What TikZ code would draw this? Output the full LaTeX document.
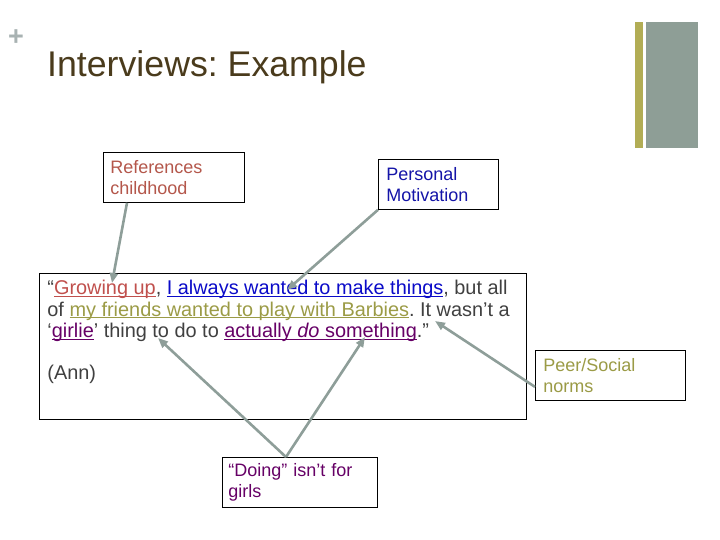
\documentclass[tikz,border=0pt]{standalone}
\usepackage{fontspec}
\setmainfont{Liberation Sans}
\definecolor{inkgray}{HTML}{404040}
\definecolor{titlebrown}{HTML}{4A3B1C}
\definecolor{plusgray}{HTML}{A8B2B2}
\definecolor{pointergray}{HTML}{8E9E99}
\definecolor{barolive}{HTML}{B2AD55}
\definecolor{barsage}{HTML}{8E9E96}
\definecolor{childred}{HTML}{C0504D}
\definecolor{labelred}{HTML}{B4574B}
\definecolor{makeblue}{HTML}{0A0AC8}
\definecolor{labelblue}{HTML}{1414A8}
\definecolor{peerolive}{HTML}{9B9B46}
\definecolor{doplum}{HTML}{660066}
\usepackage{tikz}
\usetikzlibrary{arrows.meta,positioning}
\frenchspacing
\newcommand\ulined[1]{\setbox0=\hbox{#1}\rlap{\rule[-2pt]{\wd0}{1.3pt}}\box0}
\newcommand\quotefont{\fontsize{19.9}{21.5}\selectfont}
\newcommand\lblfont{\fontsize{18}{21}\selectfont}

\begin{document}
\begin{tikzpicture}[x=1pt,y=-1pt,
    lbl/.style={draw=black,line width=0.8pt,fill=white,anchor=north west,inner ysep=0pt,align=left,font=\lblfont,minimum height=50pt},
    pointer/.style={pointergray,line width=2.6pt,-{Triangle[length=10pt,width=8pt]}}]
  \useasboundingbox (0,0) rectangle (720,540);
  % header
  \node[plusgray,font=\fontsize{27}{27}\selectfont\bfseries,inner sep=0pt] (plus) at (16,38) {+};
  \node[titlebrown,font=\fontsize{35.7}{40}\selectfont,anchor=base west,inner sep=0pt] (title) at (47,77) {Interviews: Example};
  \fill[barolive] (635,22) rectangle (643,148);
  \fill[barsage] (646,22) rectangle (698,148);
  % quote
  \node[draw=black,line width=0.8pt,anchor=north west,inner xsep=8pt,inner ysep=7pt,text=inkgray,font=\quotefont] (quote) at (39,273)
    {\parbox[c][132pt][t]{471pt}{\raggedright
      “{\color{childred}\ulined{Growing up}}, {\color{makeblue}\ulined{I always wanted to make things}}, but all\\
      of {\color{peerolive}\ulined{my friends wanted to play with Barbies}}. It wasn’t a\\
      ‘{\color{doplum}\ulined{girlie}}’ thing to do to {\color{doplum}\ulined{actually \textit{do} something}}.”\\[20pt]
      (Ann)}};
  % labels
  \node[lbl,text=labelred,text width=127pt,inner xsep=7pt] (ref) at (103,152) {References\\childhood};
  \node[lbl,text=labelblue,text width=104pt,inner xsep=8pt] (pers) at (378,159) {Personal\\Motivation};
  \node[lbl,text=peerolive,text width=134pt,inner xsep=8pt] (peer) at (535,350) {Peer/Social\\norms};
  \node[lbl,text=doplum,text width=143pt,inner xsep=6pt] (doing) at (222,457) {“Doing” isn’t for\\girls};
  % arrow tips
  \coordinate (tipgrow) at (112,283);
  \coordinate (tipmake) at (287,290);
  \coordinate (tipto) at (158,338);
  \coordinate (tipsome) at (365,337);
  \coordinate (tipbarb) at (435,321);
  % pointers
  \draw[pointer] ([xshift=24pt]ref.south west) -- (tipgrow);
  \draw[pointer] (pers.south west) -- (tipmake);
  \draw[pointer] ([xshift=64pt]doing.north west) -- (tipto);
  \draw[pointer] ([xshift=64pt]doing.north west) -- (tipsome);
  \draw[pointer] ([yshift=-11.5pt]peer.west) -- (tipbarb);
\end{tikzpicture}
\end{document}
